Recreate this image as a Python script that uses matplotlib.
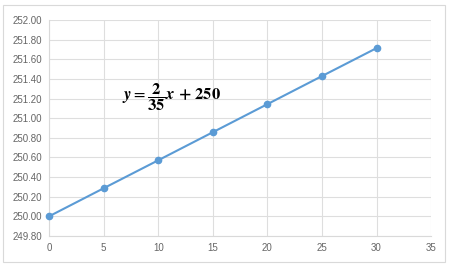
import matplotlib
matplotlib.use("Agg")
import matplotlib.pyplot as plt
from matplotlib.patches import Rectangle

# data
x = [0, 5, 10, 15, 20, 25, 30]
y = [250.00, 250.286, 250.571, 250.857, 251.143, 251.429, 251.714]
x_ticks = [0, 5, 10, 15, 20, 25, 30, 35]
y_ticks = [249.80, 250.00, 250.20, 250.40, 250.60, 250.80, 251.00,
           251.20, 251.40, 251.60, 251.80, 252.00]

plt.rcParams['font.family'] = ['Liberation Sans', 'DejaVu Sans']
plt.rcParams['mathtext.fontset'] = 'stix'

fig = plt.figure(figsize=(4.5, 2.75), dpi=100)
ax = fig.add_axes([0.109, 0.142, 0.849, 0.785])

# outer chart border
fig.patches.append(Rectangle((3 / 450, 1 - 262 / 275), 442 / 450, 257 / 275,
                             transform=fig.transFigure, fill=False,
                             edgecolor='#D9D9D9', linewidth=0.8))

ax.plot(x, y, color='#5B9BD5', linewidth=1.5, marker='o', markersize=4.5,
        zorder=3, clip_on=False)

ax.set_xlim(0, 35)
ax.set_ylim(249.8, 252.0)
ax.set_xticks(x_ticks)
ax.set_yticks(y_ticks)
ax.set_yticklabels([f'{v:.2f}' for v in y_ticks])
ax.grid(True, color='#DEDEDE', linewidth=0.8)
ax.set_axisbelow(True)
ax.tick_params(length=0, labelsize=7, colors='#666666', pad=5)
for side in ['top', 'right']:
    ax.spines[side].set_visible(False)
for side in ['left', 'bottom']:
    ax.spines[side].set_color('#D9D9D9')

ax.text(0.32, 0.64, r'$\mathbfit{y} = \dfrac{\mathbf{2}}{\mathbf{35}}\mathbfit{x}\ \mathbf{+\ 250}$',
        transform=ax.transAxes, ha='center', va='center', fontsize=12)

fig.savefig('out.png', dpi=100)
